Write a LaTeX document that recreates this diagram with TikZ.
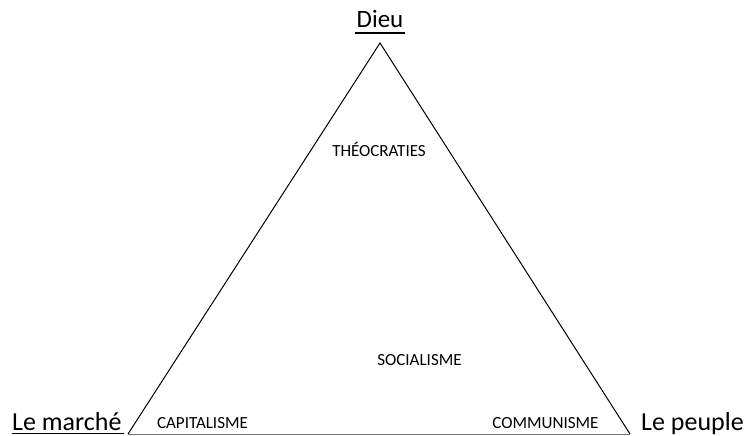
\documentclass[tikz,border=0pt]{standalone}
\usepackage{fontspec}
\setmainfont{Carlito}
\begin{document}
\begin{tikzpicture}[x=1pt,y=-1pt,
  edge/.style={line width=1pt,black},
  uline/.style={line width=1.8pt,black},
  big/.style={font=\fontsize{26}{28}\selectfont,inner sep=0pt},
  small/.style={font=\fontsize{17}{19}\selectfont,inner sep=0pt,anchor=base}]
\useasboundingbox (0,0) rectangle (744,436);
\coordinate (apex) at (380,43);
\coordinate (bl) at (128,434);
\coordinate (br) at (630,434);
\draw[edge] (bl) -- (apex) -- (br);
\draw[line width=1pt,black!55] (bl) -- (br);
\node[big,font=\fontsize{25}{28}\selectfont,anchor=base] (dieu) at (380,28) {Dieu};
\draw[uline] ([xshift=-1.5pt,yshift=-5pt]dieu.base west) -- ([xshift=1.5pt,yshift=-5pt]dieu.base east);
\node[big,anchor=base west] (marche) at (12,430) {Le marché};
\draw[uline] ([xshift=-0.5pt,yshift=-3.5pt]marche.base west) -- ([xshift=2pt,yshift=-3.5pt]marche.base east);
\node[big,anchor=base west] (peuple) at (641,430) {Le peuple};
\node[small] (theo) at (379,156) {THÉOCRATIES};
\node[small] (soc) at (419.5,365) {SOCIALISME};
\node[small] (cap) at (202.5,428) {CAPITALISME};
\node[small] (com) at (545.5,428) {COMMUNISME};
\end{tikzpicture}
\end{document}
